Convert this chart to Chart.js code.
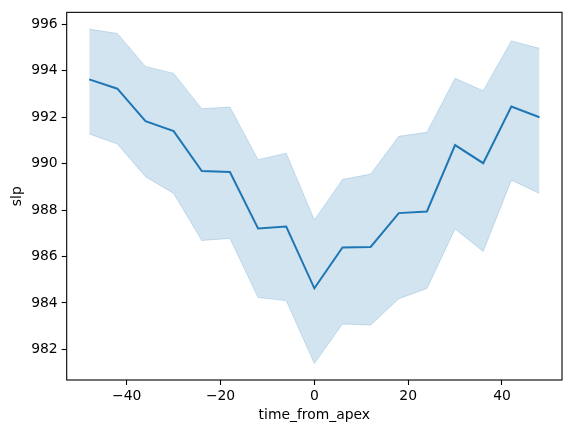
<!DOCTYPE html>
<html>
<head>
<meta charset="utf-8">
<script src="https://cdn.jsdelivr.net/npm/chart.js@4/dist/chart.umd.min.js"></script>
<style>
  html, body { margin: 0; padding: 0; background: #fff; }
  canvas { display: block; }
</style>
</head>
<body>
<canvas id="chart" width="571" height="433"></canvas>
<script>
// hours relative to apex, mean sea level pressure and the 95% band around it
const timeFromApex = [-48, -42, -36, -30, -24, -18, -12, -6, 0, 6, 12, 18, 24, 30, 36, 42, 48];
const slpMean = [993.63, 993.23, 991.83, 991.40, 989.68, 989.64, 987.21, 987.29, 984.63,
                 986.39, 986.41, 987.87, 987.94, 990.80, 990.02, 992.46, 992.00];
const slpUpper = [995.80, 995.61, 994.19, 993.89, 992.37, 992.44, 990.17, 990.45, 987.57,
                  989.32, 989.55, 991.18, 991.35, 993.68, 993.14, 995.29, 994.97];
const slpLower = [991.28, 990.85, 989.44, 988.72, 986.69, 986.78, 984.23, 984.10, 981.39,
                  983.09, 983.05, 984.18, 984.62, 987.19, 986.22, 989.29, 988.72];

const blue = "#1f77b4";
const band = "rgba(31,119,180,0.2)";
const font = { family: "DejaVu Sans", size: 13.9 };

function toPoints(ys) {
    return timeFromApex.map((t, i) => ({ x: t, y: ys[i] }));
}

// matplotlib-style full frame around the axes
const frame = {
    id: "frame",
    afterDatasetsDraw(chart) {
        const a = chart.chartArea;
        const ctx = chart.ctx;
        ctx.save();
        ctx.strokeStyle = "#000";
        ctx.lineWidth = 1.1;
        ctx.strokeRect(a.left, a.top, a.right - a.left, a.bottom - a.top);
        ctx.restore();
    }
};

const minusSign = v => String(v).replace("-", "\u2212");

new Chart(document.getElementById("chart"), {
    type: "line",
    data: {
        datasets: [
            {
                data: toPoints(slpLower),
                borderColor: band,
                borderWidth: 1,
                pointRadius: 0,
                fill: false
            },
            {
                data: toPoints(slpUpper),
                borderColor: band,
                borderWidth: 1,
                backgroundColor: band,
                pointRadius: 0,
                fill: "-1"
            },
            {
                data: toPoints(slpMean),
                borderColor: blue,
                borderWidth: 2,
                pointRadius: 0,
                fill: false
            }
        ]
    },
    options: {
        responsive: false,
        animation: false,
        layout: { padding: { top: 10, right: 9, left: 0, bottom: 0 } },
        plugins: { legend: { display: false }, tooltip: { enabled: false } },
        scales: {
            x: {
                type: "linear",
                min: -52.8,
                max: 52.8,
                grid: { drawOnChartArea: false, tickLength: 5, color: "#000", tickWidth: 1.1 },
                border: { display: false },
                ticks: { stepSize: 20, includeBounds: false, color: "#000", font: font, padding: 3,
                         maxRotation: 0, callback: minusSign },
                title: { display: true, text: "time_from_apex", color: "#000", font: font,
                         padding: { top: 0, bottom: 9 } },
                afterFit(scale) { scale.height = 53; }
            },
            y: {
                min: 980.68,
                max: 996.52,
                grid: { drawOnChartArea: false, tickLength: 5, color: "#000", tickWidth: 1.1 },
                border: { display: false },
                ticks: { stepSize: 2, includeBounds: false, color: "#000", font: font, padding: 4 },
                title: { display: true, text: "slp", color: "#000", font: font,
                         padding: { top: 9, bottom: 0 } },
                afterFit(scale) { scale.width = 66.7; }
            }
        }
    },
    plugins: [frame]
});
</script>
</body>
</html>
